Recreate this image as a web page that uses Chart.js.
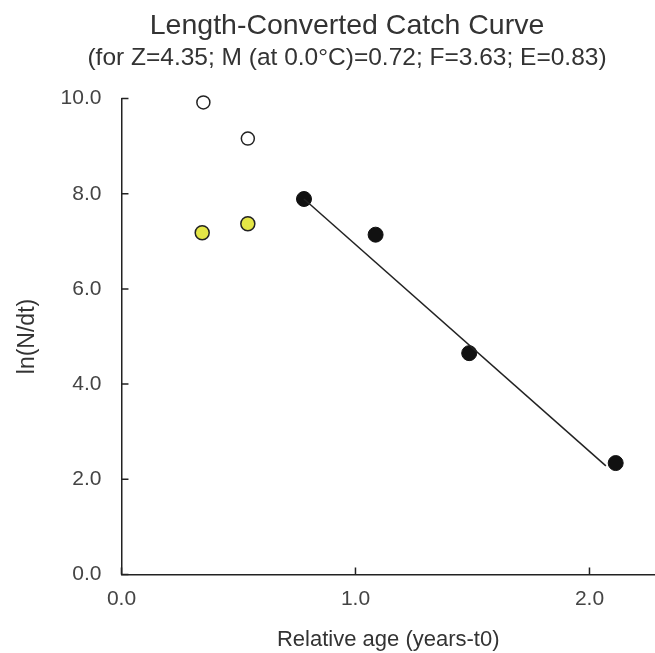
<!DOCTYPE html>
<html>
<head>
<meta charset="utf-8">
<script src="https://cdn.jsdelivr.net/npm/chart.js@4"></script>
<style>
  body { margin: 0; background: #fff; }
  canvas { display: block; }
</style>
</head>
<body>
<canvas id="chart1" width="655" height="653"></canvas>
<script>
// points not used in the fit (open circles)
const openX = [0.35, 0.54];
const openY = [9.92, 9.16];
// yellow points, also excluded
const yellowX = [0.345, 0.54];
const yellowY = [7.18, 7.37];
// points used for the regression
const usedX = [0.78, 1.086, 1.486, 2.112];
const usedY = [7.89, 7.14, 4.65, 2.34];
// fitted line, slope -Z
const fitX = [0.78, 2.07];
const fitY = [7.89, 2.28];

const xTicks = [0, 1, 2];
const yTicks = [0, 2, 4, 6, 8, 10];
const xMax = 2.28;

const pts = (xs, ys) => xs.map((x, i) => ({ x: x, y: ys[i] }));
const FONT = "'Liberation Sans', Arial, sans-serif";

// short tick marks pointing into the plot
const innerTicks = {
  id: 'innerTicks',
  afterDraw: chart => {
    const c = chart.ctx, xs = chart.scales.x, ys = chart.scales.y;
    const a = chart.chartArea;
    c.save();
    c.strokeStyle = '#222';
    c.lineWidth = 1.5;
    c.beginPath();
    xTicks.forEach(v => {
      const px = xs.getPixelForValue(v);
      c.moveTo(px, a.bottom);
      c.lineTo(px, a.bottom - 7);
    });
    yTicks.forEach(v => {
      const py = ys.getPixelForValue(v);
      c.moveTo(a.left, py);
      c.lineTo(a.left + 7, py);
    });
    c.stroke();
    c.restore();
  }
};

const ctx1 = document.getElementById('chart1');
const graphData = {
  datasets: [{
    label: 'fit',
    type: 'line',
    data: pts(fitX, fitY),
    borderColor: '#222',
    borderWidth: 1.5,
    pointRadius: 0,
    fill: false
  },
  {
    label: 'open',
    data: pts(openX, openY),
    backgroundColor: '#fff',
    borderColor: '#222',
    borderWidth: 1.5,
    pointRadius: 6.5,
    clip: false
  },
  {
    label: 'yellow',
    data: pts(yellowX, yellowY),
    backgroundColor: '#e4e646',
    borderColor: '#222',
    borderWidth: 1.5,
    pointRadius: 7,
    clip: false
  },
  {
    label: 'used',
    data: pts(usedX, usedY),
    backgroundColor: '#111',
    borderColor: '#111',
    borderWidth: 1,
    pointRadius: 7.5,
    clip: false
  }]
};

const options = {
  responsive: false,
  animation: false,
  // no extra room for point radius: the x axis runs to the picture's edge
  layout: { autoPadding: false, padding: { top: 4, left: 27, right: -12, bottom: 0 } },
  plugins: {
    legend: { display: false },
    tooltip: { enabled: false },
    title: {
      display: true,
      text: 'Length-Converted Catch Curve',
      color: '#333',
      font: { family: FONT, size: 28.5, weight: 'normal' },
      padding: { top: 5, bottom: 0 }
    },
    subtitle: {
      display: true,
      text: '(for Z=4.35; M (at 0.0°C)=0.72; F=3.63; E=0.83)',
      color: '#333',
      font: { family: FONT, size: 24.5, weight: 'normal' },
      padding: { top: 0, bottom: 26 }
    }
  },
  scales: {
    x: {
      type: 'linear',
      min: 0,
      max: xMax,
      afterBuildTicks: axis => {
        axis.ticks = xTicks.concat([xMax]).map(v => ({ value: v }));
      },
      afterFit: axis => { axis.paddingRight = 0; },
      ticks: {
        color: '#444',
        font: { family: FONT, size: 21 },
        padding: 0,
        callback: v => xTicks.includes(v) ? v.toFixed(1) : ''
      },
      // invisible tick marks only to space the labels below the axis
      grid: { drawOnChartArea: false, drawTicks: true, tickLength: 12, tickColor: 'rgba(0,0,0,0)' },
      border: { color: '#222', width: 1.5 },
      title: {
        display: true,
        text: 'Relative age (years-t0)',
        color: '#333',
        font: { family: FONT, size: 22 },
        padding: { top: 15, bottom: 0 }
      }
    },
    y: {
      type: 'linear',
      min: 0,
      max: 10,
      afterBuildTicks: axis => { axis.ticks = yTicks.map(v => ({ value: v })); },
      ticks: {
        color: '#444',
        font: { family: FONT, size: 21 },
        padding: 20,
        callback: v => v.toFixed(1)
      },
      grid: { drawOnChartArea: false, drawTicks: false },
      border: { color: '#222', width: 1.5 },
      title: {
        display: true,
        text: 'ln(N/dt)',
        color: '#333',
        font: { family: FONT, size: 23 },
        padding: { top: -13, bottom: -1 }
      }
    }
  }
};

const sleepChart = new Chart(ctx1, {
  type: 'scatter',
  data: graphData,
  options: options,
  plugins: [innerTicks]
});
</script>
</body>
</html>
